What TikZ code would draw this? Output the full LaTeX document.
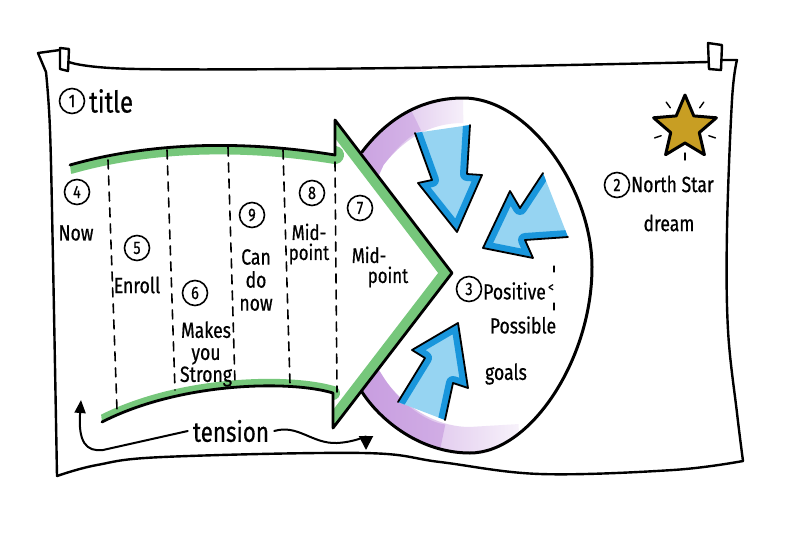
\documentclass[tikz,border=0pt]{standalone}
\usepackage{fontspec}
\newfontfamily\hand{Fira Sans}[FakeStretch=0.8, FakeBold=0.6]
\usetikzlibrary{arrows.meta,fadings}
\definecolor{arrgreen}{RGB}{95,190,100}
\definecolor{lav}{RGB}{196,150,222}
\definecolor{skyb}{RGB}{25,150,220}
\definecolor{skyl}{RGB}{150,212,242}
\definecolor{goldstar}{RGB}{200,158,35}
\begin{document}
\begin{tikzpicture}[x=1pt,y=-1pt, line cap=round, line join=round,
  ink/.style={draw=black, line width=2.8pt},
  boardline/.style={draw=black, line width=2.4pt},
  dashline/.style={draw=black, line width=1.6pt, dash pattern=on 9pt off 7pt},
  tline/.style={draw=black, line width=2pt},
  num/.style={circle, draw=black, line width=1.6pt, minimum size=25pt, inner sep=0pt, font=\hand\fontsize{18}{18}\selectfont},
  lbl/.style={inner sep=0pt, font=\hand\fontsize{22}{22}\selectfont, align=center},
  blueedge/.style={draw=black, line width=1.8pt},
  bluerim/.style={draw=skyb, line width=14pt, line cap=butt}
]
\useasboundingbox (0,0) rectangle (796,550);
\fill[white] (0,0) rectangle (796,550);

% ---------- board ----------
\draw[boardline] plot[smooth, tension=0.6] coordinates {(57,476) (53,260) (50,130) (46,72)} -- (38,53) -- (60,50);
\draw[boardline] (60,48) -- (69,49) -- (68,71) -- (60,69) -- cycle;
\draw[boardline] plot[smooth, tension=0.6] coordinates {(69,62) (137,69) (400,68) (708,62)};
\draw[boardline] (708,43) -- (722,45) -- (721,70) -- (709,69) -- cycle;
\draw[boardline] (722,60) -- plot[smooth, tension=0.6] coordinates {(737,60) (732,100) (727,230) (728,330) (737,413) (743,461)};
\draw[boardline] plot[smooth, tension=0.6] coordinates {(743,461) (673,470) (540,474) (440,462) (363,453) (163,457) (97,465) (57,476)};

% ---------- goal blob ----------
\begin{scope}
\clip (362,152) .. controls (390,115) and (425,98) .. (463,98) .. controls (530,98) and (592,190) .. (592,267) .. controls (592,360) and (530,453) .. (470,453) .. controls (420,453) and (380,420) .. (362,392) .. controls (345,365) and (340,320) .. (340,272) .. controls (340,220) and (345,180) .. (362,152) -- cycle;
\draw[lav, line width=50pt, line cap=butt, path fading=east] (340,200) -- (362,152) .. controls (390,115) and (425,98) .. (463,98);
\draw[lav, line width=50pt, line cap=butt, opacity=0.5] (340,200) -- (362,152) .. controls (380,128) and (395,115) .. (410,108);
\draw[lav, line width=52pt, line cap=butt, path fading=east] (520,450) -- (470,453) .. controls (420,453) and (380,420) .. (362,392) -- (345,365);
\draw[lav, line width=52pt, line cap=butt, opacity=0.6] (440,450) .. controls (410,445) and (380,420) .. (362,392) -- (345,365);
\end{scope}
\draw[ink, line width=3pt] (362,152) .. controls (390,115) and (425,98) .. (463,98) .. controls (530,98) and (592,190) .. (592,267) .. controls (592,360) and (530,453) .. (470,453) .. controls (420,453) and (380,420) .. (362,392);

% ---------- blue arrows ----------
\fill[skyl] (415,133) -- (432,180) -- (418,183) -- (457,232) -- (482,175) -- (467,174) -- (470,125) -- cycle;
\begin{scope}
\clip (415,133) -- (432,180) -- (418,183) -- (457,232) -- (482,175) -- (467,174) -- (470,125) -- cycle;
\draw[bluerim] (415,133) -- (432,180) -- (418,183) -- (457,232) -- (482,175) -- (467,174) -- (470,125);
\end{scope}
\draw[blueedge] (415,133) -- (432,180) -- (418,183) -- (457,232) -- (482,175) -- (467,174) -- (470,125);

\fill[skyl] (543,173) -- (520,208) -- (510,191) -- (483,248) -- (533,258) -- (525,240) -- (568,237) -- cycle;
\begin{scope}
\clip (543,173) -- (520,208) -- (510,191) -- (483,248) -- (533,258) -- (525,240) -- (568,237) -- cycle;
\draw[bluerim] (543,173) -- (520,208) -- (510,191) -- (483,248) -- (533,258) -- (525,240) -- (568,237);
\end{scope}
\draw[blueedge] (543,173) -- (520,208) -- (510,191) -- (483,248) -- (533,258) -- (525,240) -- (568,237);

\fill[skyl] (398,402) -- (425,358) -- (412,350) -- (458,323) -- (468,388) -- (453,383) -- (445,420) -- cycle;
\begin{scope}
\clip (398,402) -- (425,358) -- (412,350) -- (458,323) -- (468,388) -- (453,383) -- (445,420) -- cycle;
\draw[bluerim] (398,402) -- (425,358) -- (412,350) -- (458,323) -- (468,388) -- (453,383) -- (445,420);
\end{scope}
\draw[blueedge] (398,402) -- (425,358) -- (412,350) -- (458,323) -- (468,388) -- (453,383) -- (445,420);

% ---------- big green arrow ----------
\fill[white] (70,165) .. controls (140,145) and (230,138) .. (335,155) -- (335,120) -- (452,273) -- (333,428) -- (333,393) .. controls (290,380) and (180,382) .. (102,422) -- cycle;
\begin{scope}
\clip (70,165) .. controls (140,145) and (230,138) .. (335,155) -- (335,120) -- (452,273) -- (333,428) -- (333,393) .. controls (290,380) and (180,382) .. (102,422) -- cycle;
\draw[arrgreen, line width=18pt, opacity=0.85] (70,165) .. controls (140,145) and (230,138) .. (335,155);
\draw[arrgreen, line width=22pt, opacity=0.85] (335,120) -- (452,273) -- (333,428);
\draw[arrgreen, line width=14pt, opacity=0.85] (333,393) .. controls (290,380) and (180,382) .. (102,422);
\end{scope}
\draw[ink] (70,165) .. controls (140,145) and (230,138) .. (335,155) -- (335,120) -- (452,273) -- (333,428) -- (333,393) .. controls (290,380) and (180,382) .. (102,422);

% dashed stage lines
\draw[dashline] (108,160) -- (117,410);
\draw[dashline] (167,150) -- (175,390);
\draw[dashline] (228,147) -- (235,384);
\draw[dashline] (283,150) -- (290,384);
\draw[dashline] (335,162) -- (337,392);

% ---------- star ----------
\draw[black, line width=3pt, fill=goldstar] (685,95) -- (676.2,115.9) -- (653.6,117.8) -- (670.7,132.6) -- (665.6,154.7) -- (685,143) -- (704.4,154.7) -- (699.3,132.6) -- (716.4,117.8) -- (693.8,115.9) -- cycle;
\draw[black, line width=1.4pt] (670.3,107.8) -- (666.2,102.1);
\draw[black, line width=1.4pt] (699.7,107.8) -- (703.8,102.1);
\draw[black, line width=1.4pt] (661.2,135.7) -- (654.6,137.9);
\draw[black, line width=1.4pt] (708.8,135.7) -- (715.4,137.9);
\draw[black, line width=1.4pt] (685,153) -- (685,160);

% ---------- labels ----------
\node[num] (c1) at (72,101) {1};
\node[lbl, font=\hand\fontsize{30}{30}\selectfont, anchor=west] (title) at (89,101) {title};
\node[num] (c4) at (77,192) {4};
\node[lbl] (now) at (76,233) {Now};
\node[num] (c5) at (137,248) {5};
\node[lbl] (enroll) at (137,285) {Enroll};
\node[num] (c6) at (195,293) {6};
\node[lbl] (makes) at (206,354) {Makes\\you\\Strong};
\node[num] (c9) at (252,215) {9};
\node[lbl, font=\hand\fontsize{22}{23}\selectfont] (cando) at (256,280) {Can\\do\\now};
\node[num] (c8) at (312,193) {8};
\node[lbl, font=\hand\fontsize{21}{20}\selectfont] (mid8) at (309,244) {Mid-\\point};
\node[num] (c7) at (360,208) {7};
\node[lbl, align=left, font=\hand\fontsize{21}{20}\selectfont] (mid7) at (380,267) {Mid-\\\hspace*{16pt}point};
\node[num] (c3) at (469,289) {3};
\node[lbl, anchor=west] (pos) at (483,291) {Positive};
\node[lbl, font=\hand\fontsize{14}{14}\selectfont] (lt) at (551,288) {<};
\draw[black, line width=1.3pt] (554,266) -- (554,272);
\draw[black, line width=1.3pt] (554,303) -- (554,310);
\node[lbl] (possible) at (523,325) {Possible};
\node[lbl] (goals) at (506,374) {goals};
\node[num] (c2) at (617,185) {2};
\node[lbl, anchor=west] (north) at (631,184) {North Star};
\node[lbl] (dream) at (669,223) {dream};

% ---------- tension ----------
\node[lbl, font=\hand\fontsize{28}{28}\selectfont, inner sep=5pt] (ten) at (231,431) {tension};
\coordinate (tl) at (81,400);
\coordinate (tr) at (366,450);
\draw[tline, -{Triangle[length=13pt,width=11pt]}] (ten.west) -- (103,450) .. controls (86,452) and (78,442) .. (tl);
\draw[tline, -{Triangle[length=14pt,width=14pt]}] (ten.east) .. controls (298,424) and (312,444) .. (337,443) .. controls (355,442) and (366,436) .. (tr);
\end{tikzpicture}
\end{document}
